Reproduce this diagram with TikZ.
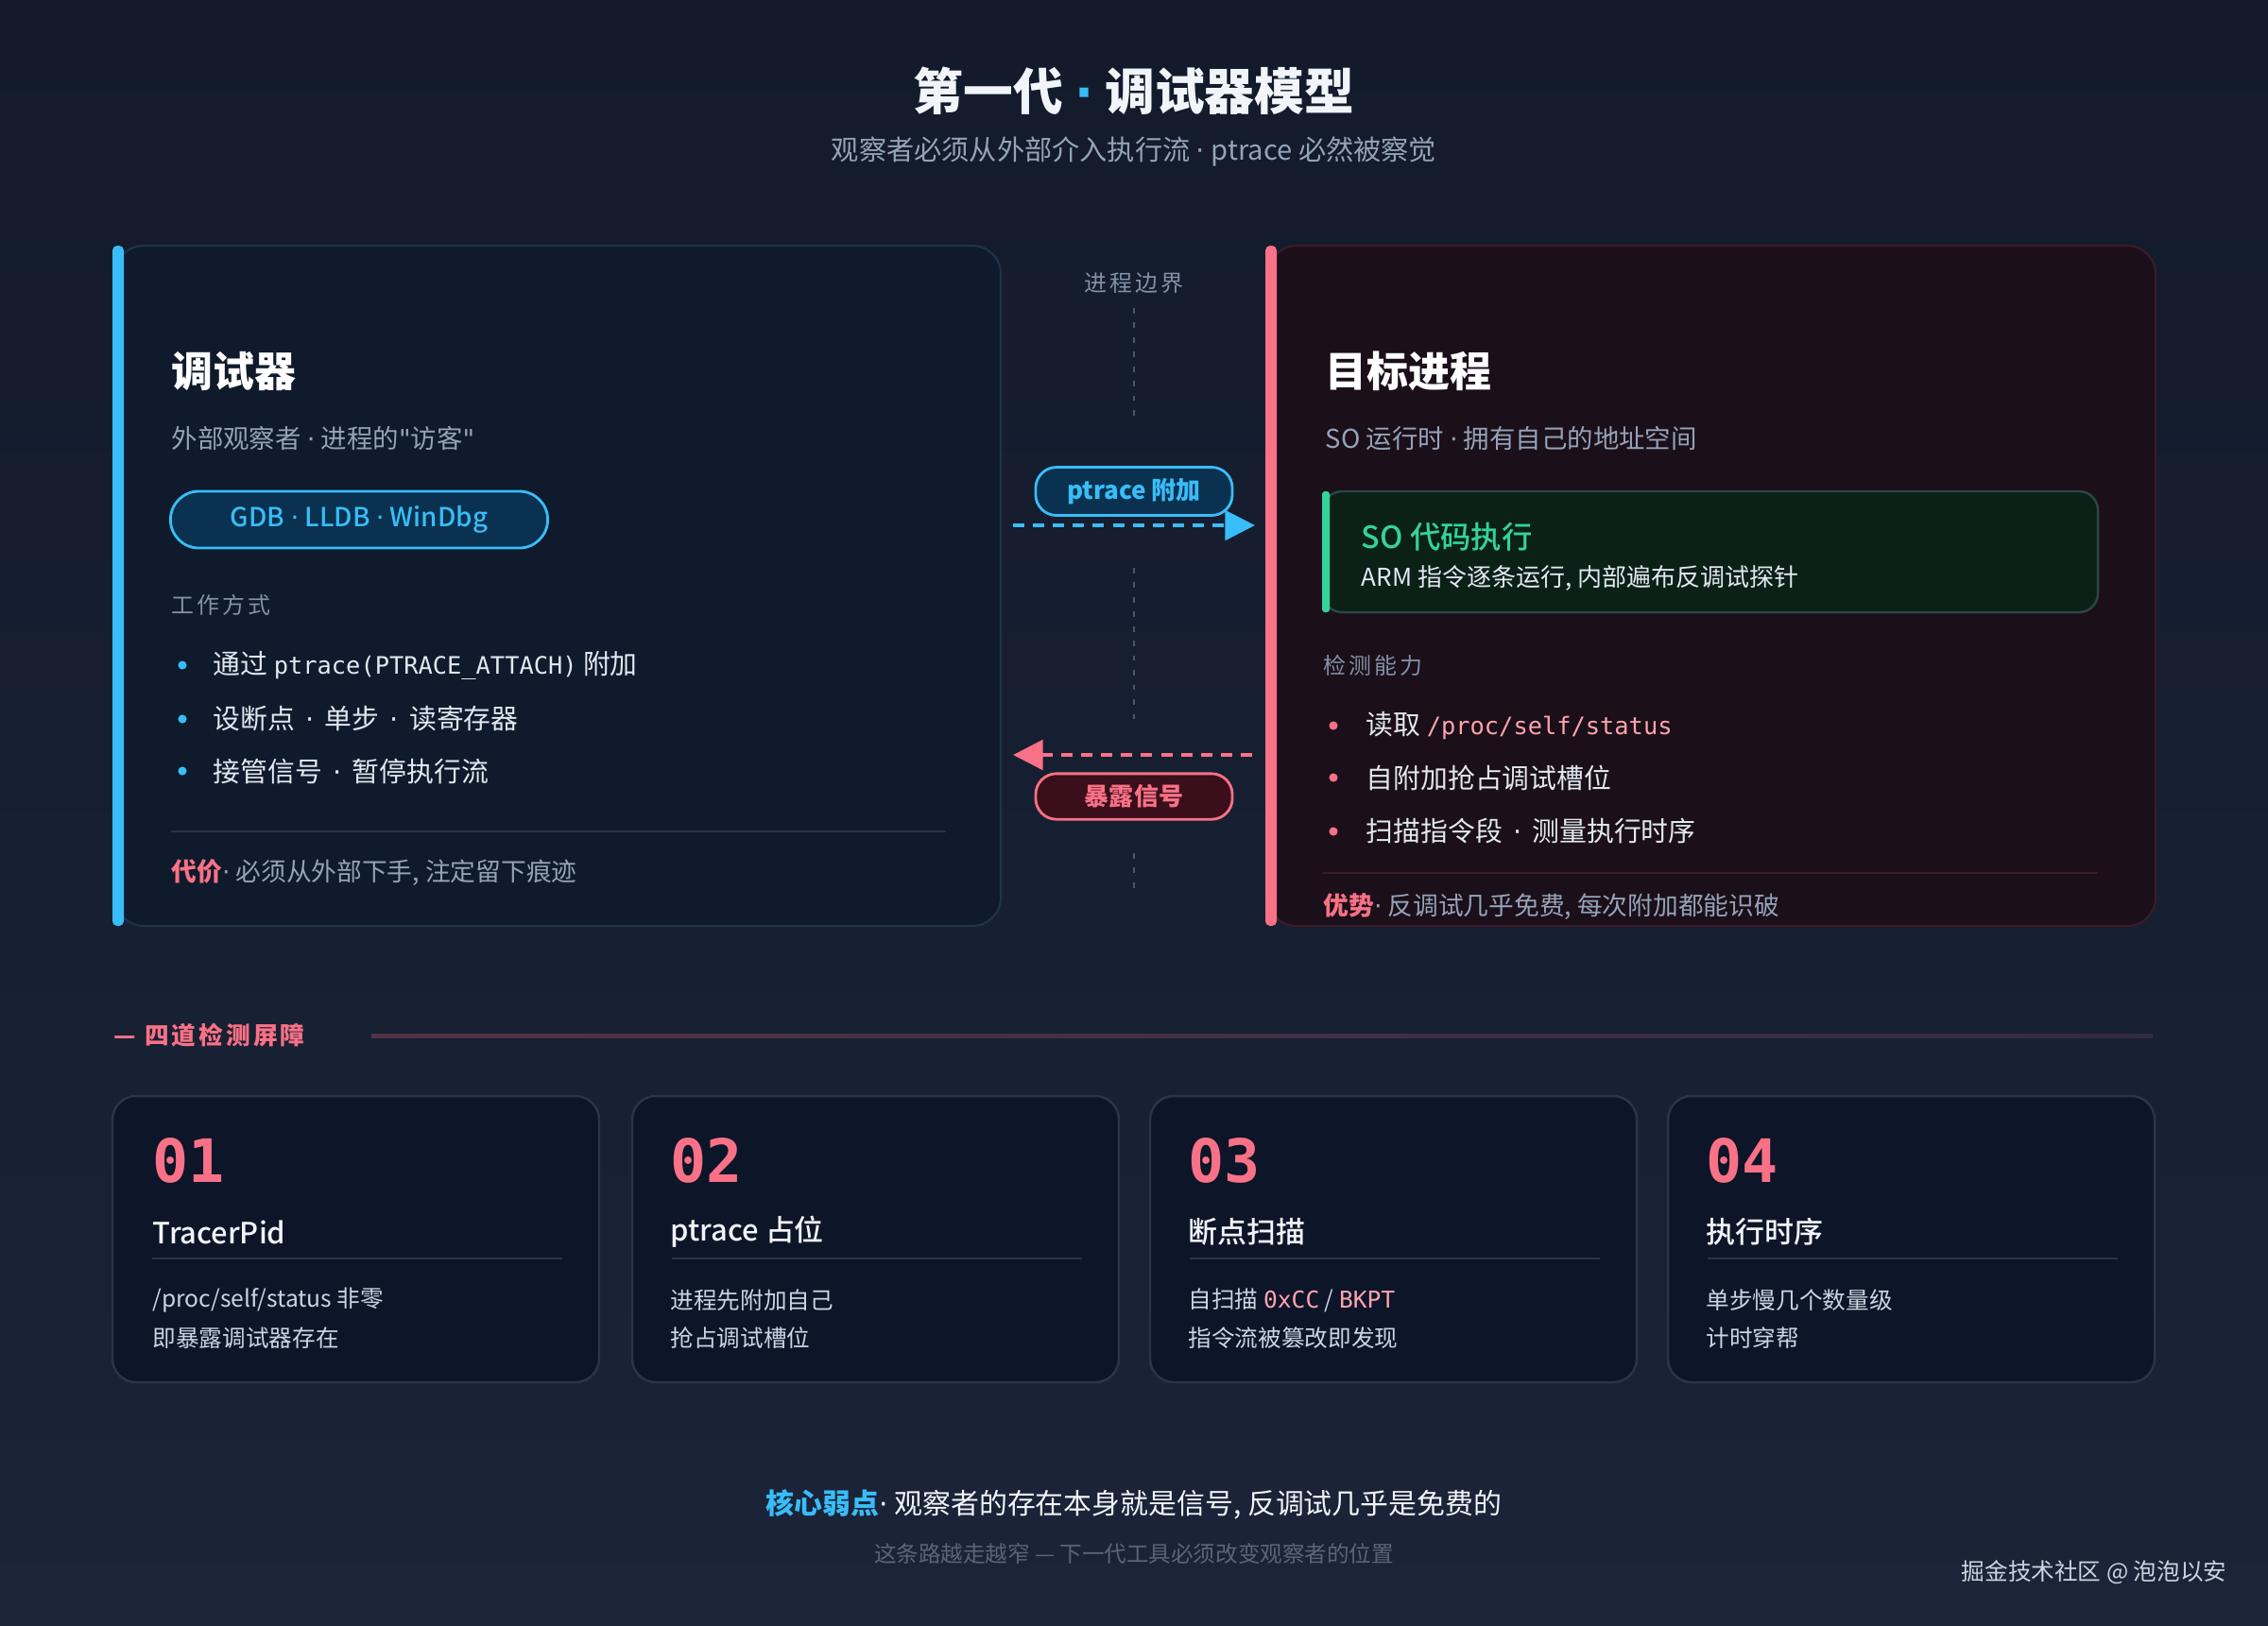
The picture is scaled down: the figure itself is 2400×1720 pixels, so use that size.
\documentclass[tikz,border=0pt]{standalone}
\usepackage{fontspec}
\setmainfont{Noto Sans CJK SC}
\newfontfamily\medfont{Noto Sans CJK SC Medium}
\newfontfamily\monofont{DejaVu Sans Mono}
\newfontfamily\dotfont{DejaVu Sans}
\newfontfamily\spacedfont[LetterSpace=12]{Noto Sans CJK SC}
\usepackage{xcolor}
\usetikzlibrary{arrows.meta,fit,calc}
\definecolor{bgtop}{HTML}{121A2B}
\definecolor{bgbot}{HTML}{1B2438}
\definecolor{cblue}{HTML}{38BDF8}
\definecolor{cpink}{HTML}{F87186}
\definecolor{lpink}{HTML}{FDA4AF}
\definecolor{cgreen}{HTML}{34D399}
\definecolor{txtwhite}{HTML}{F1F5F9}
\definecolor{itemcol}{HTML}{E2E8F0}
\definecolor{subgray}{HTML}{94A3B8}
\definecolor{capgray}{HTML}{8391A6}
\definecolor{dimgray}{HTML}{5B6578}
\definecolor{descgray}{HTML}{CBD5E1}
\definecolor{dbgfill}{HTML}{0F1A2C}
\definecolor{dbgline}{HTML}{1F3448}
\definecolor{tgtfill}{HTML}{1B0F19}
\definecolor{tgtline}{HTML}{3A1C2A}
\definecolor{pillblue}{HTML}{0B3150}
\definecolor{pillred}{HTML}{3A0F1B}
\definecolor{execfill}{HTML}{0B2118}
\definecolor{execline}{HTML}{2C4642}
\definecolor{slotfill}{HTML}{0D1529}
\definecolor{slotline}{HTML}{2A3548}
\definecolor{rulecol}{HTML}{24344A}
\definecolor{tgtrule}{HTML}{3F1A27}
\newcommand\fsz[1]{\fontsize{#1pt}{#1pt}\selectfont}
\newcommand\md{{\dotfont ·}}
\newcommand\qt{{\dotfont "}}
\newcommand\code[1]{{\monofont\fontsize{0.88em}{1em}\selectfont #1}}

\begin{document}
\begin{tikzpicture}[x=0.01cm,y=-0.01cm,
    card/.style={draw=#1, line width=0.6pt, rounded corners=0.3cm, inner sep=0pt},
    txt/.style={anchor=west, inner sep=0pt},
    h1/.style={txt, text=white, font=\bfseries\fsz{12.5}},
    sub/.style={txt, text=subgray, font=\fsz{7.8}},
    lbl/.style={txt, text=capgray, font=\spacedfont\fsz{6.8}},
    item/.style={txt, text=itemcol, font=\fsz{8.2}},
    foot/.style={txt, text=subgray, font=\fsz{7.6}},
    pillb/.style={draw=cblue, fill=pillblue, text=cblue, line width=0.8pt, rounded corners=0.22cm, minimum height=0.45cm},
    pillr/.style={draw=cpink, fill=pillred, text=cpink, line width=0.8pt, rounded corners=0.22cm, minimum height=0.45cm, minimum width=2.08cm},
    flowb/.style={draw=cblue, line width=1pt, dash pattern=on 3.4pt off 2.6pt, -{Triangle[length=9pt,width=9pt]}},
    flowr/.style={draw=cpink, line width=1pt, dash pattern=on 3.4pt off 2.6pt, -{Triangle[length=9pt,width=9pt]}},
    border/.style={draw=capgray!50!bgtop, line width=0.6pt, dash pattern=on 1.6pt off 2.8pt},
    slot/.style={draw=slotline, fill=slotfill, line width=0.7pt, rounded corners=0.25cm, inner sep=0pt},
    num/.style={txt, text=cpink, font=\monofont\bfseries\fsz{18}},
    stitle/.style={txt, text=txtwhite, font=\medfont\fsz{8.8}},
    desc/.style={txt, text=descgray, font=\fsz{7}}]
    \useasboundingbox (0,0) rectangle (2400,1720);
    \shade[top color=bgtop, bottom color=bgbot] (0,0) rectangle (2400,1720);

    \node[text=txtwhite, font=\bfseries\fsz{15}] (title) at (1200,96) {第一代\ \textcolor{cblue}{\md}\ 调试器模型};
    \node[text=subgray, font=\fsz{8.3}] (subtitle) at (1200,160) {观察者必须从外部介入执行流 \md{} ptrace 必然被察觉};

    % debugger side
    \node[card=dbgline, fill=dbgfill, fit={(122,260) (1059,980)}] (dbg) {};
    \fill[cblue, rounded corners=0.05cm] (119,260) rectangle (131,980);
    \node[h1] (dbgname) at (181,393) {调试器};
    \node[sub] (dbgsub) at (181,464) {外部观察者 \md{} 进程的\qt 访客\qt};
    \node[pillb, minimum width=3.99cm, minimum height=0.6cm, rounded corners=0.3cm, font=\medfont\fsz{7.9}] (tools) at (380,550) {GDB \md{} LLDB \md{} WinDbg};
    \node[lbl] (howto) at (181,640) {工作方式};
    \foreach \y in {704,761,816} \fill[cblue] (193,\y) circle[radius=1.3pt];
    \node[item] (w1) at (225,704) {通过 \code{ptrace(PTRACE\_ATTACH)} 附加};
    \node[item] (w2) at (225,761) {设断点\, \md\, 单步\, \md\, 读寄存器};
    \node[item] (w3) at (225,816) {接管信号\, \md\, 暂停执行流};
    \draw[rulecol, line width=0.7pt] (181,880) -- (1001,880);
    \node[foot] (cost) at (181,924) {\textcolor{cpink}{\bfseries 代价}\md{} 必须从外部下手, 注定留下痕迹};

    % boundary
    \node[text=capgray, font=\spacedfont\fsz{6.8}] (edge) at (1200,300) {进程边界};
    \draw[border] (1200,326) -- (1200,444);
    \draw[border] (1200,601) -- (1200,761);
    \draw[border] (1200,903) -- (1200,949);
    \node[pillb, minimum width=2.08cm, font=\bfseries\fsz{7.4}] (attach) at (1200,520) {ptrace 附加};
    \node[pillr, font=\bfseries\fsz{7.4}] (leak) at (1200,843) {暴露信号};

    % target side
    \node[card=tgtline, fill=tgtfill, fit={(1342,260) (2281,980)}] (tgt) {};
    \fill[cpink, rounded corners=0.05cm] (1339,260) rectangle (1351,980);
    \node[h1] (tgtname) at (1402,393) {目标进程};
    \node[sub] (tgtsub) at (1402,464) {SO 运行时 \md{} 拥有自己的地址空间};
    \node[draw=execline, fill=execfill, line width=0.7pt, rounded corners=0.2cm, inner sep=0pt, fit={(1400,520) (2220,648)}] (exec) {};
    \fill[cgreen, rounded corners=0.03cm] (1399,520) rectangle (1407,648);
    \node[txt, text=cgreen, font=\medfont\fsz{9.2}] (exectitle) at (1440,568) {SO 代码执行};
    \node[txt, text=itemcol, font=\fsz{7.4}] (execsub) at (1440,612) {ARM 指令逐条运行, 内部遍布反调试探针};
    \node[lbl] (detect) at (1400,704) {检测能力};
    \foreach \y in {768,823,880} \fill[cpink] (1411,\y) circle[radius=1.3pt];
    \node[item] (d1) at (1445,768) {读取 \textcolor{lpink}{\code{/proc/self/status}}};
    \node[item] (d2) at (1445,823) {自附加抢占调试槽位};
    \node[item] (d3) at (1445,880) {扫描指令段\, \md\, 测量执行时序};
    \draw[tgtrule, line width=0.7pt] (1400,924) -- (2220,924);
    \node[foot] (gain) at (1400,960) {\textcolor{cpink}{\bfseries 优势}\md{} 反调试几乎免费, 每次附加都能识破};

    \coordinate (ya) at (0,556);
    \coordinate (yr) at (0,799);
    \draw[flowb] ([xshift=0.12cm]dbg.east |- ya) -- ([xshift=-0.13cm]tgt.west |- ya);
    \draw[flowr] ([xshift=-0.16cm]tgt.west |- yr) -- ([xshift=0.12cm]dbg.east |- yr);

    % four barriers
    \node[txt, text=cpink, font=\spacedfont\bfseries\fsz{7.3}] (barriers) at (120,1096) {— 四道检测屏障};
    \shade[left color=cpink!28!bgtop, right color=cpink!10!bgbot] (393,1094) rectangle (2278,1098);
    \foreach \x [count=\k] in {119,669,1217,1765}{
        \node[slot, fit={(\x,1160) (\x+515,1463)}] (card\k) {};
        \draw[slotline, line width=0.7pt] (\x+42,1332) -- (\x+476,1332);
    }
    \node[num] (n1) at (161,1228) {01};
    \node[stitle] (s1) at (161,1304) {TracerPid};
    \node[desc] (a1) at (161,1376) {/proc/self/status 非零};
    \node[desc] (b1) at (161,1416) {即暴露调试器存在};

    \node[num] (n2) at (709,1228) {02};
    \node[stitle] (s2) at (709,1304) {ptrace 占位};
    \node[desc] (a2) at (709,1376) {进程先附加自己};
    \node[desc] (b2) at (709,1416) {抢占调试槽位};

    \node[num] (n3) at (1257,1228) {03};
    \node[stitle] (s3) at (1257,1304) {断点扫描};
    \node[desc] (a3) at (1257,1376) {自扫描 \textcolor{lpink}{\monofont 0xCC} / \textcolor{lpink}{\monofont BKPT}};
    \node[desc] (b3) at (1257,1416) {指令流被篡改即发现};

    \node[num] (n4) at (1805,1228) {04};
    \node[stitle] (s4) at (1805,1304) {执行时序};
    \node[desc] (a4) at (1805,1376) {单步慢几个数量级};
    \node[desc] (b4) at (1805,1416) {计时穿帮};

    \node[text=txtwhite, font=\fsz{8.5}] (core) at (1200,1592) {\textcolor{cblue}{\bfseries 核心弱点}\md{} 观察者的存在本身就是信号, 反调试几乎是免费的};
    \node[text=dimgray, font=\fsz{6.7}] (next) at (1200,1644) {这条路越走越窄 — 下一代工具必须改变观察者的位置};
    \node[anchor=east, inner sep=0pt, text=descgray, font=\fsz{7}] (mark) at (2357,1664) {掘金技术社区 @ 泡泡以安};
\end{tikzpicture}
\end{document}
